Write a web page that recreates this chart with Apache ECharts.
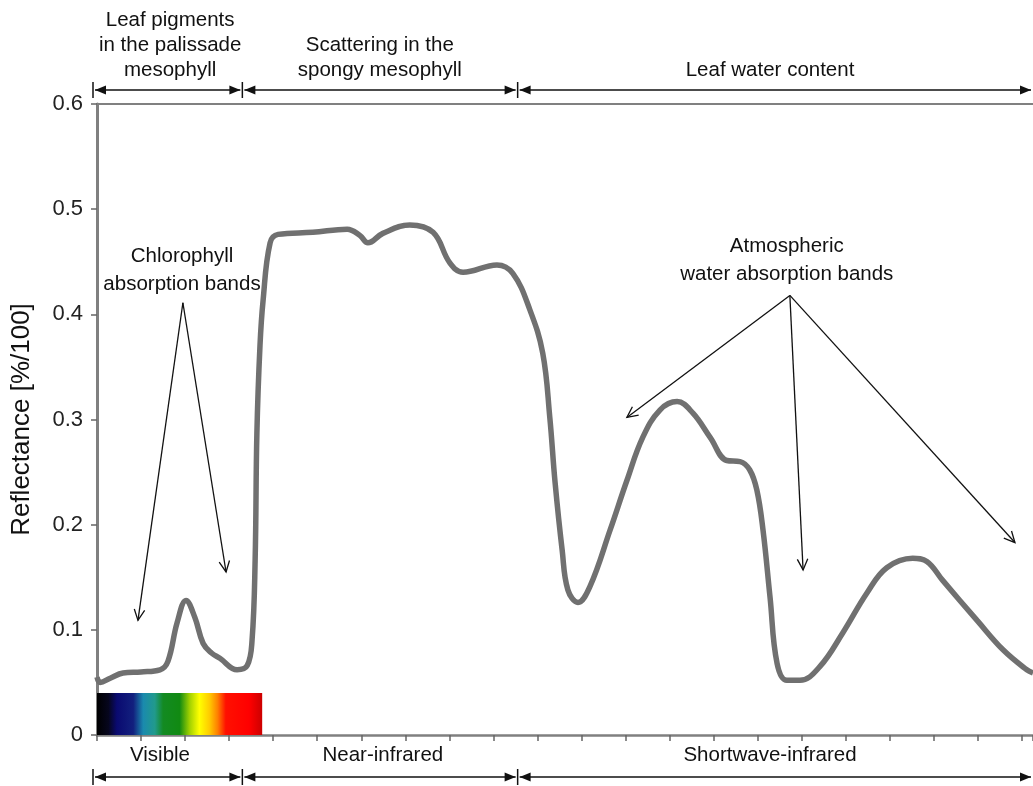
<!DOCTYPE html>
<html>
<head>
<meta charset="utf-8">
<script src="https://cdn.jsdelivr.net/npm/echarts@6/dist/echarts.min.js"></script>
<style>
  html, body { margin: 0; padding: 0; background: #fff; }
  #chart { width: 1033px; height: 786px; }
</style>
</head>
<body>
<div id="chart"></div>
<script>
// wavelength in nm, reflectance as fraction
const wavelength = [400, 407, 430, 459, 500, 543, 561, 582, 602, 622, 641, 660, 679, 718, 741, 752, 759, 763, 770, 777,
  793, 811, 890, 968, 997, 1015, 1049, 1110, 1163, 1201, 1231, 1308, 1344, 1383, 1412, 1428, 1440, 1456, 1469, 1492,
  1519, 1565, 1603, 1639, 1678, 1717, 1753, 1792, 1830, 1860, 1882, 1898, 1912, 1928, 1944, 1966, 1996, 2041, 2093, 2148,
  2193, 2252, 2284, 2320, 2398, 2457, 2511, 2525]
const reflectance = [0.055, 0.050, 0.054, 0.059, 0.060, 0.062, 0.070, 0.107, 0.128, 0.112, 0.087, 0.078, 0.073, 0.062, 0.066, 0.090, 0.166, 0.287, 0.370, 0.413,
  0.468, 0.476, 0.478, 0.481, 0.475, 0.468, 0.477, 0.485, 0.478, 0.449, 0.440, 0.447, 0.439, 0.404, 0.363, 0.302, 0.240, 0.176, 0.138, 0.126,
  0.141, 0.195, 0.242, 0.283, 0.309, 0.317, 0.306, 0.283, 0.261, 0.260, 0.252, 0.233, 0.195, 0.131, 0.068, 0.052, 0.052, 0.065, 0.097, 0.135,
  0.159, 0.168, 0.165, 0.147, 0.109, 0.081, 0.062, 0.059]

const xRange = [400, 2525]
const yRange = [0, 0.6]

// region boundaries (nm) for the double arrows
const bandEdges = [400, 730, 1355, 2525]
const topLabels = ['Leaf pigments\nin the palissade\nmesophyll', 'Scattering in the\nspongy mesophyll', 'Leaf water content']
const topLabelAt = [566, 1042, 1928]
const bottomLabels = ['Visible', 'Near-infrared', 'Shortwave-infrared']
const bottomLabelAt = [543, 1049, 1928]

// visible colour strip: start nm, end nm, height
const visibleStrip = [400, 775, 0.04]

// callouts: text position, arrow origin, arrow targets (all in data units)
const chloroText = [593, 0.442]
const chloroFrom = [595, 0.411]
const chloroTargets = [[493, 0.109], [693, 0.155]]
const waterText = [1966, 0.451]
const waterFrom = [1973, 0.418]
const waterTargets = [[1603, 0.302], [2003, 0.157], [2484, 0.183]]

const FONT = 'Liberation Sans, Arial, sans-serif'
const chart = echarts.init(document.getElementById('chart'))

chart.setOption({
  backgroundColor: '#fff',
  animation: false,
  grid: { left: 97, right: 0, top: 104, bottom: 51 },
  xAxis: [
    {
      type: 'value',
      min: xRange[0],
      max: xRange[1],
      interval: 100,
      axisLine: { lineStyle: { color: '#808080', width: 2.5 } },
      axisTick: { length: 6, lineStyle: { color: '#666', width: 1.5 } },
      axisLabel: { show: false },
      splitLine: { show: false },
    },
    {
      type: 'value',
      position: 'top',
      min: xRange[0],
      max: xRange[1],
      axisLine: { show: true, lineStyle: { color: '#808080', width: 2 } },
      axisTick: { show: false },
      axisLabel: { show: false },
      splitLine: { show: false },
    },
  ],
  yAxis: {
    type: 'value',
    min: yRange[0],
    max: yRange[1],
    interval: 0.1,
    name: 'Reflectance [%/100]',
    nameLocation: 'middle',
    nameRotate: 90,
    nameGap: 62,
    nameTextStyle: { fontSize: 26, color: '#111', fontFamily: FONT },
    axisLine: { show: true, lineStyle: { color: '#808080', width: 3 } },
    axisTick: { show: true, length: 6, lineStyle: { color: '#666', width: 1.5 } },
    axisLabel: {
      fontSize: 22,
      color: '#222',
      fontFamily: FONT,
      margin: 14,
      formatter: (v) => (v === 0 ? '0' : v.toFixed(1)),
    },
    splitLine: { show: false },
  },
  series: [
    {
      name: 'Leaf reflectance',
      type: 'line',
      data: wavelength.map((w, i) => [w, reflectance[i]]),
      smooth: 0.4,
      showSymbol: false,
      lineStyle: { color: '#707070', width: 5.5 },
      silent: true,
      markArea: {
        silent: true,
        itemStyle: {
          color: new echarts.graphic.LinearGradient(0, 0, 1, 0, [
            { offset: 0, color: '#000000' },
            { offset: 0.07, color: '#06061e' },
            { offset: 0.12, color: '#0a0a70' },
            { offset: 0.22, color: '#12207e' },
            { offset: 0.28, color: '#1a8aae' },
            { offset: 0.35, color: '#219a8c' },
            { offset: 0.4, color: '#138a22' },
            { offset: 0.5, color: '#118a12' },
            { offset: 0.56, color: '#a0d000' },
            { offset: 0.62, color: '#ffff00' },
            { offset: 0.68, color: '#ffcc00' },
            { offset: 0.73, color: '#ff8000' },
            { offset: 0.78, color: '#ff1000' },
            { offset: 0.92, color: '#ff0000' },
            { offset: 1, color: '#cc0000' },
          ]),
        },
        data: [[
          { xAxis: visibleStrip[0], yAxis: 0 },
          { xAxis: visibleStrip[1], yAxis: visibleStrip[2] },
        ]],
      },
    },
  ],
})

// ---- annotations ----
const px = (p) => chart.convertToPixel({ xAxisIndex: 0, yAxisIndex: 0 }, p)
const xPx = (w) => px([w, 0])[0]
const ink = '#111'
const g = []

function spanArrows(y) {
  for (let i = 0; i < bandEdges.length - 1; i++) {
    const a = xPx(bandEdges[i]) + (i === 0 ? -2 : 2)
    const b = xPx(bandEdges[i + 1]) - 2
    g.push({ type: 'line', shape: { x1: a, y1: y, x2: b, y2: y }, style: { stroke: ink, lineWidth: 1.5 } })
    g.push({ type: 'polygon', shape: { points: [[a, y], [a + 11, y - 4.5], [a + 11, y + 4.5]] }, style: { fill: ink } })
    g.push({ type: 'polygon', shape: { points: [[b, y], [b - 11, y - 4.5], [b - 11, y + 4.5]] }, style: { fill: ink } })
  }
  bandEdges.slice(0, -1).forEach((w, i) => {
    const x = xPx(w) + (i === 0 ? -4 : 0)
    g.push({ type: 'line', shape: { x1: x, y1: y - 8, x2: x, y2: y + 8 }, style: { stroke: ink, lineWidth: 1.5 } })
  })
}

function pointer(from, to) {
  const [x1, y1] = px(from)
  const [x2, y2] = px(to)
  const ang = Math.atan2(y2 - y1, x2 - x1)
  const L = 12, spread = 0.45
  g.push({ type: 'line', shape: { x1, y1, x2, y2 }, style: { stroke: ink, lineWidth: 1.3 } })
  g.push({
    type: 'polyline',
    shape: {
      points: [
        [x2 - L * Math.cos(ang - spread), y2 - L * Math.sin(ang - spread)],
        [x2, y2],
        [x2 - L * Math.cos(ang + spread), y2 - L * Math.sin(ang + spread)],
      ],
    },
    style: { stroke: ink, lineWidth: 1.3, fill: null },
  })
}

function label(text, x, y, vAlign, lh) {
  g.push({
    type: 'text',
    style: { text, x, y, align: 'center', verticalAlign: vAlign, font: '20.5px ' + FONT, fill: ink, lineHeight: lh },
  })
}

spanArrows(90)
spanArrows(777)
topLabels.forEach((t, i) => label(t, xPx(topLabelAt[i]), 83, 'bottom', 25))
bottomLabels.forEach((t, i) => label(t, xPx(bottomLabelAt[i]), 755, 'middle', 22))

const ct = px(chloroText)
label('Chlorophyll\nabsorption bands', ct[0], ct[1], 'middle', 28)
chloroTargets.forEach((t) => pointer(chloroFrom, t))

const wt = px(waterText)
label('Atmospheric\nwater absorption bands', wt[0], wt[1], 'middle', 28)
waterTargets.forEach((t) => pointer(waterFrom, t))

chart.setOption({ graphic: g })
</script>
</body>
</html>
